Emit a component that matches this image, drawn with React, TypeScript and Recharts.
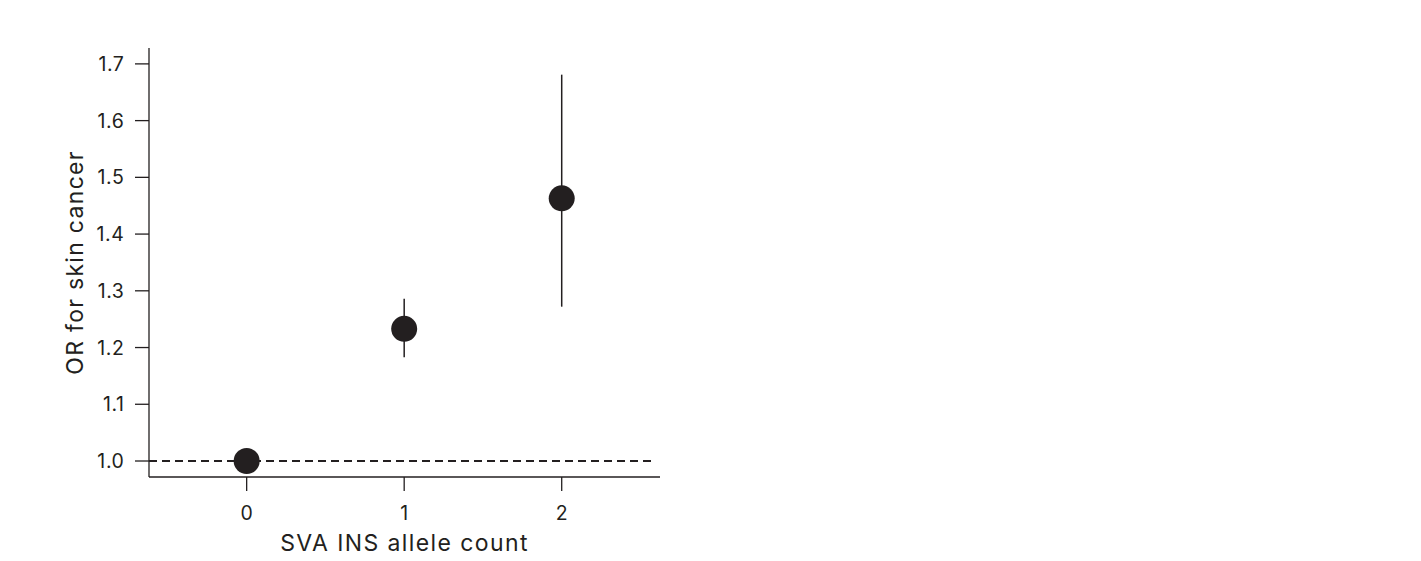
import React from "react";
import {
  ErrorBar,
  ReferenceLine,
  Scatter,
  ScatterChart,
  XAxis,
  YAxis,
} from "recharts";

const alleleCounts = [0, 1, 2];
const oddsRatios = [1.0, 1.233, 1.463];
const ciLower = [1.0, 1.183, 1.272];
const ciUpper = [1.0, 1.286, 1.681];

const xTicks = [0, 1, 2];
const yTicks = [1.0, 1.1, 1.2, 1.3, 1.4, 1.5, 1.6, 1.7];

const ink = "#231f20";
const font = "Inter, Roboto, sans-serif";
const tickSize = 19.5;
const titleSize = 23;

const data = alleleCounts.map((count, i) => ({
  count,
  or: oddsRatios[i],
  err: [oddsRatios[i] - ciLower[i], ciUpper[i] - oddsRatios[i]],
}));

const Dot = (props: any) => {
  const { cx, cy } = props;
  return <circle cx={cx} cy={cy} r={13} fill={ink} />;
};

const XTick = (props: any) => {
  const { x, y, payload } = props;
  return (
    <text x={x} y={y + 18} textAnchor="middle" fill={ink} fontSize={tickSize} fontFamily={font}>
      {payload.value}
    </text>
  );
};

const YTick = (props: any) => {
  const { x, y, payload } = props;
  return (
    <text
      x={x + 1.5}
      y={y + 7}
      textAnchor="end"
      fill={ink}
      fontSize={tickSize}
      fontFamily={font}
      letterSpacing={0.6}
    >
      {Number(payload.value).toFixed(1)}
    </text>
  );
};

// axis titles drawn relative to the plot box
const XTitle = (props: any) => {
  const { viewBox } = props;
  const cx = viewBox.x + viewBox.width / 2;
  return (
    <text
      x={cx}
      y={551}
      textAnchor="middle"
      fill={ink}
      fontSize={titleSize}
      fontFamily={font}
      letterSpacing={1.4}
    >
      SVA INS allele count
    </text>
  );
};

const YTitle = (props: any) => {
  const { viewBox } = props;
  const cy = viewBox.y + viewBox.height / 2;
  return (
    <text
      x={83}
      y={cy}
      transform={`rotate(-90, 83, ${cy})`}
      textAnchor="middle"
      fill={ink}
      fontSize={titleSize}
      fontFamily={font}
      letterSpacing={1.3}
    >
      OR for skin cancer
    </text>
  );
};

export default function App() {
  return (
    <div style={{ position: "absolute", left: 0, top: 0, background: "#fff" }}>
      <ScatterChart
        width={700}
        height={561}
        margin={{ top: 48, right: 40, left: 0, bottom: 0 }}
        style={{ fontFamily: font }}
      >
        <XAxis
          type="number"
          dataKey="count"
          domain={[-0.62, 2.624]}
          ticks={xTicks}
          allowDataOverflow
          height={84}
          tickSize={14}
          tickMargin={11}
          stroke={ink}
          strokeWidth={1.3}
          tick={<XTick />}
          label={<XTitle />}
        />
        <YAxis
          type="number"
          dataKey="or"
          domain={[0.9718, 1.728]}
          ticks={yTicks}
          allowDataOverflow
          width={149}
          tickSize={14}
          tickMargin={12}
          stroke={ink}
          strokeWidth={1.3}
          tick={<YTick />}
          label={<YTitle />}
        />
        <ReferenceLine
          segment={[
            { x: -0.62, y: 1 },
            { x: 2.58, y: 1 },
          ]}
          stroke={ink}
          strokeWidth={2}
          strokeDasharray="8 5"
        />
        <Scatter data={data} shape={<Dot />} isAnimationActive={false}>
          <ErrorBar
            dataKey="err"
            direction="y"
            width={0}
            stroke={ink}
            strokeWidth={1.5}
            isAnimationActive={false}
          />
        </Scatter>
      </ScatterChart>
    </div>
  );
}
